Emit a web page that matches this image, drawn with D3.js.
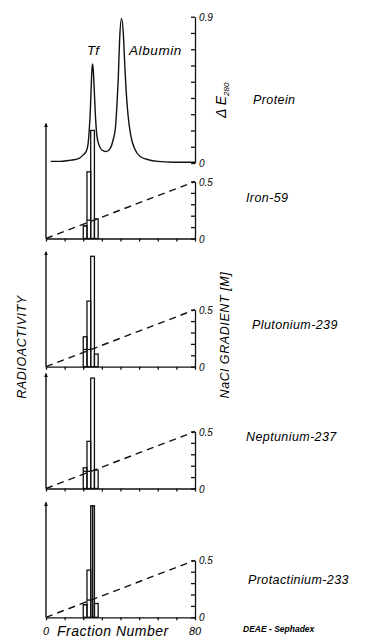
<!DOCTYPE html>
<html>
<head>
<meta charset="UTF-8">
<script src="https://d3js.org/d3.v7.min.js"></script>
<style>
  body { margin: 0; background: #fff; }
  svg { display: block; }
  text { font-family: 'Liberation Sans', 'DejaVu Sans', sans-serif; font-style: italic; fill: #000; }
  .ax path, .ax line { stroke: #111; stroke-width: 1.3; }
</style>
</head>
<body>
<svg id="chart" width="373" height="638"></svg>
<script>
// protein elution profile (ΔE280)
const proteinFraction = [2.5, 7.5, 12, 15, 18, 20, 21.5, 22.5, 23.2, 23.8, 24.3, 24.7, 25.0, 25.4, 25.9, 26.5, 27.3, 28.5, 30, 32.3, 34.5, 36, 37.3, 38.2, 38.8, 39.5, 40.5, 41.5, 42.3, 43, 44, 45.5, 47.5, 50.5, 55, 60, 68, 80];
const proteinE280 = [0.01, 0.01, 0.015, 0.02, 0.03, 0.05, 0.07, 0.11, 0.2, 0.32, 0.48, 0.58, 0.61, 0.57, 0.45, 0.3, 0.17, 0.11, 0.08, 0.07, 0.09, 0.14, 0.22, 0.38, 0.52, 0.75, 0.89, 0.8, 0.6, 0.45, 0.3, 0.17, 0.09, 0.04, 0.02, 0.01, 0.005, 0.005];

// NaCl gradient (dashed line)
const gradientFraction = [0, 80];
const gradientNaCl = [0, 0.5];

// radioactivity histograms (relative units, arrow top = 100)
const tracers = ["Iron-59", "Plutonium-239", "Neptunium-237", "Protactinium-233"];
const binEdges = [20, 22, 24, 26, 28];
const paBinEdges = [20, 22, 24, 25, 26, 28];
const ironCounts = [11, 58, 94, 17];
const ironInner = [11, 16];
const plutoniumCounts = [26, 57, 96, 11];
const plutoniumInner = [15, 15];
const neptuniumCounts = [18, 41, 96, 16];
const neptuniumInner = [15, 15];
const protactiniumCounts = [11, 41, 97, 97, 12];
const protactiniumInner = [11, 15];

const fractionTicks = [0, 10, 20, 30, 40, 50, 60, 70, 80];

const svg = d3.select("#chart");

svg.append("defs").append("marker")
    .attr("id", "arrow")
    .attr("viewBox", "0 0 10 10")
    .attr("refX", 9).attr("refY", 5)
    .attr("markerWidth", 4).attr("markerHeight", 8)
    .attr("markerUnits", "userSpaceOnUse")
    .attr("orient", "auto")
    .append("path").attr("d", "M0,0 L10,5 L0,10 Z").attr("fill", "#111");

const x = d3.scaleLinear().domain([0, 80]).range([46, 195]);

// ---- protein panel ----
const yP = d3.scaleLinear().domain([0, 0.9]).range([163, 16.7]);

svg.append("g").attr("class", "ax")
    .attr("transform", "translate(195,0)")
    .call(d3.axisLeft(yP).tickValues(d3.range(0, 0.91, 0.1)).tickSize(4).tickSizeOuter(0).tickFormat(""));

svg.append("path")
    .attr("d", d3.line().x((d, i) => x(proteinFraction[i])).y(d => yP(d)).curve(d3.curveMonotoneX)(proteinE280))
    .attr("fill", "none").attr("stroke", "#111").attr("stroke-width", 1.4);

svg.append("text").attr("x", 199).attr("y", yP(0.9) + 4).attr("font-size", 10).text("0.9");
svg.append("text").attr("x", 199).attr("y", yP(0) + 4).attr("font-size", 10).text("0");
svg.append("text").attr("x", 93).attr("y", 55).attr("text-anchor", "middle").attr("font-size", 13.5).text("Tf");
svg.append("text").attr("x", 129).attr("y", 55).attr("font-size", 13.5).attr("letter-spacing", 0.6).text("Albumin");

const de = svg.append("text").attr("transform", "translate(226,118) rotate(-90)").attr("font-size", 14);
de.append("tspan").text("Δ E");
de.append("tspan").attr("font-size", 8).attr("dy", 3).text("280");

svg.append("text").attr("x", 253).attr("y", 104).attr("font-size", 12.5).attr("letter-spacing", 0.4).text("Protein");

// ---- radioactivity panels ----
const panels = [
  { name: tracers[0], base: 238.5, edges: binEdges, counts: ironCounts, inner: ironInner, lx: 246, ly: 202 },
  { name: tracers[1], base: 366.7, edges: binEdges, counts: plutoniumCounts, inner: plutoniumInner, lx: 252, ly: 329 },
  { name: tracers[2], base: 488.5, edges: binEdges, counts: neptuniumCounts, inner: neptuniumInner, lx: 246, ly: 441 },
  { name: tracers[3], base: 617.3, edges: paBinEdges, counts: protactiniumCounts, inner: protactiniumInner, lx: 248, ly: 584 }
];

panels.forEach(p => {
  const yR = d3.scaleLinear().domain([0, 100]).range([p.base, p.base - 115]);
  const yG = d3.scaleLinear().domain([0, 0.5]).range([p.base, p.base - 57]);
  const g = svg.append("g");

  // histogram bars
  g.selectAll("rect.bar").data(p.counts).join("rect")
      .attr("class", "bar")
      .attr("x", (d, i) => x(p.edges[i]))
      .attr("width", (d, i) => x(p.edges[i + 1]) - x(p.edges[i]))
      .attr("y", d => yR(d))
      .attr("height", d => p.base - yR(d))
      .attr("fill", "none").attr("stroke", "#111").attr("stroke-width", 1.3);

  // inner step
  g.selectAll("line.inner").data(p.inner).join("line")
      .attr("class", "inner")
      .attr("x1", (d, i) => x(p.edges[i])).attr("x2", (d, i) => x(p.edges[i + 1]))
      .attr("y1", d => yR(d)).attr("y2", d => yR(d))
      .attr("stroke", "#111").attr("stroke-width", 1.3);

  // gradient
  g.append("path")
      .attr("d", d3.line().x((d, i) => x(gradientFraction[i])).y(d => yG(d))(gradientNaCl))
      .attr("fill", "none").attr("stroke", "#111").attr("stroke-width", 1.4)
      .attr("stroke-dasharray", "7,5");

  // fraction axis
  g.append("g").attr("class", "ax")
      .attr("transform", `translate(0,${p.base})`)
      .call(d3.axisBottom(x).tickValues(fractionTicks).tickSize(3).tickSizeOuter(0).tickFormat(""));

  // gradient axis on the right
  g.append("g").attr("class", "ax")
      .attr("transform", "translate(195,0)")
      .call(d3.axisLeft(yG).tickValues([0, 0.1, 0.2, 0.3, 0.4, 0.5]).tickSize(4).tickSizeOuter(0).tickFormat(""));
  g.append("text").attr("x", 199).attr("y", yG(0.5) + 4).attr("font-size", 10).text("0.5");
  g.append("text").attr("x", 199).attr("y", yG(0) + 4).attr("font-size", 10).text("0");

  // radioactivity arrow
  g.append("line")
      .attr("x1", x(0)).attr("x2", x(0))
      .attr("y1", p.base).attr("y2", yR(100))
      .attr("stroke", "#111").attr("stroke-width", 1.4)
      .attr("marker-end", "url(#arrow)");

  g.append("text").attr("x", p.lx).attr("y", p.ly).attr("font-size", 12.5).attr("letter-spacing", 0.4).text(p.name);
});

// axis titles
svg.append("text").attr("transform", "translate(26,347) rotate(-90)")
    .attr("text-anchor", "middle").attr("font-size", 12.5).attr("letter-spacing", 0.6).text("RADIOACTIVITY");
svg.append("text").attr("transform", "translate(229,335) rotate(-90)")
    .attr("text-anchor", "middle").attr("font-size", 12.5).attr("letter-spacing", 0.6).text("NaCl GRADIENT [M]");

svg.append("text").attr("x", x(0)).attr("y", 635).attr("text-anchor", "middle").attr("font-size", 11).text("0");
svg.append("text").attr("x", x(80)).attr("y", 635).attr("text-anchor", "middle").attr("font-size", 11).text("80");
svg.append("text").attr("x", 57).attr("y", 636).attr("font-size", 14).attr("letter-spacing", 0.5).text("Fraction Number");
svg.append("text").attr("x", 243).attr("y", 632).attr("font-size", 8.5).attr("font-weight", "bold").text("DEAE - Sephadex");
</script>
</body>
</html>
